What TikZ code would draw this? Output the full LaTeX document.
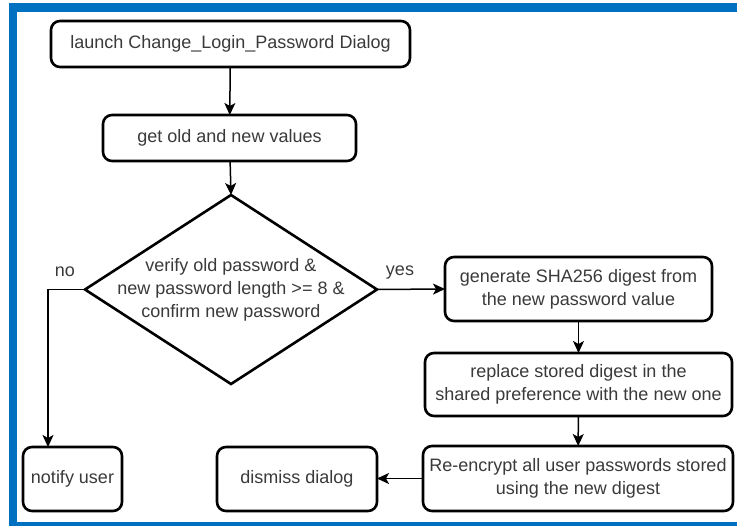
\documentclass[tikz,border=0pt]{standalone}
\usepackage{fontspec}
\setmainfont{Liberation Sans}
\usetikzlibrary{arrows.meta,shapes.geometric}

\definecolor{frameblue}{HTML}{0070C0}
\definecolor{txtgray}{HTML}{3A3A3A}

\tikzset{
  flowtext/.style={text=txtgray, font=\fontsize{18}{23}\selectfont, align=center},
  stepbox/.style={flowtext, draw=black, line width=2.6pt, rounded corners=9pt,
    fill=white, inner sep=0pt, outer sep=0pt},
  decision/.style={draw=black, line width=2.6pt, shape=diamond, fill=white,
    inner sep=0pt, outer sep=0pt},
  flowarrow/.style={draw=black, line width=1.5pt,
    -{Stealth[length=12pt, width=11pt, inset=3pt]}},
  branchlabel/.style={flowtext, inner sep=0pt},
}

\begin{document}
\begin{tikzpicture}[x=1pt, y=-1pt]
  \useasboundingbox (0,0) rectangle (737,526);

  % blue frame round the chart
  \fill[frameblue] (9,3) rectangle (17,526);
  \fill[frameblue] (9,3) rectangle (737,12);
  \fill[frameblue] (9,522) rectangle (737,526);

  % process steps
  \node[stepbox, minimum width=359pt, minimum height=46pt] (launch) at (230.5,44)
    {launch Change\_Login\_Password Dialog};
  \node[stepbox, minimum width=253pt, minimum height=46pt] (get) at (229.5,138)
    {get old and new values};
  \node[decision, minimum width=292pt, minimum height=189pt] (dec) at (231,289.5) {};
  \node[flowtext, inner sep=0pt] (dectext) at (dec.center)
    {verify old password \&\\new password length >= 8 \&\\confirm new password};
  \node[stepbox, minimum width=267pt, minimum height=64pt] (gen) at (578.5,289)
    {generate SHA256 digest from\\the new password value};
  \node[stepbox, minimum width=307pt, minimum height=63pt] (rep) at (578.5,384.5)
    {replace stored digest in the\\shared preference with the new one};
  \node[stepbox, minimum width=310pt, minimum height=65pt] (enc) at (578,478.5)
    {Re-encrypt all user passwords stored\\using the new digest};
  \node[stepbox, minimum width=160pt, minimum height=64pt] (dismiss) at (297,479)
    {dismiss dialog};
  \node[stepbox, minimum width=99pt, minimum height=64pt] (notify) at (72.5,479)
    {notify user};

  % branch labels
  \node[branchlabel] (nolabel) at (65,272) {no};
  \node[branchlabel] (yeslabel) at (400,273) {yes};

  % connectors
  \coordinate (nobend) at (48,289.5);
  \draw[flowarrow] (launch) -- (get);
  \draw[flowarrow] (get) -- (dec.north);
  \draw[flowarrow] (dec.east) -- (gen.west);
  \draw[flowarrow] (dec.west) -- (nobend) -- (nobend |- notify.north);
  \draw[flowarrow] (gen) -- (rep);
  \draw[flowarrow] (rep) -- (enc);
  \draw[flowarrow] (enc.west) -- (enc.west -| dismiss.east);
\end{tikzpicture}
\end{document}
